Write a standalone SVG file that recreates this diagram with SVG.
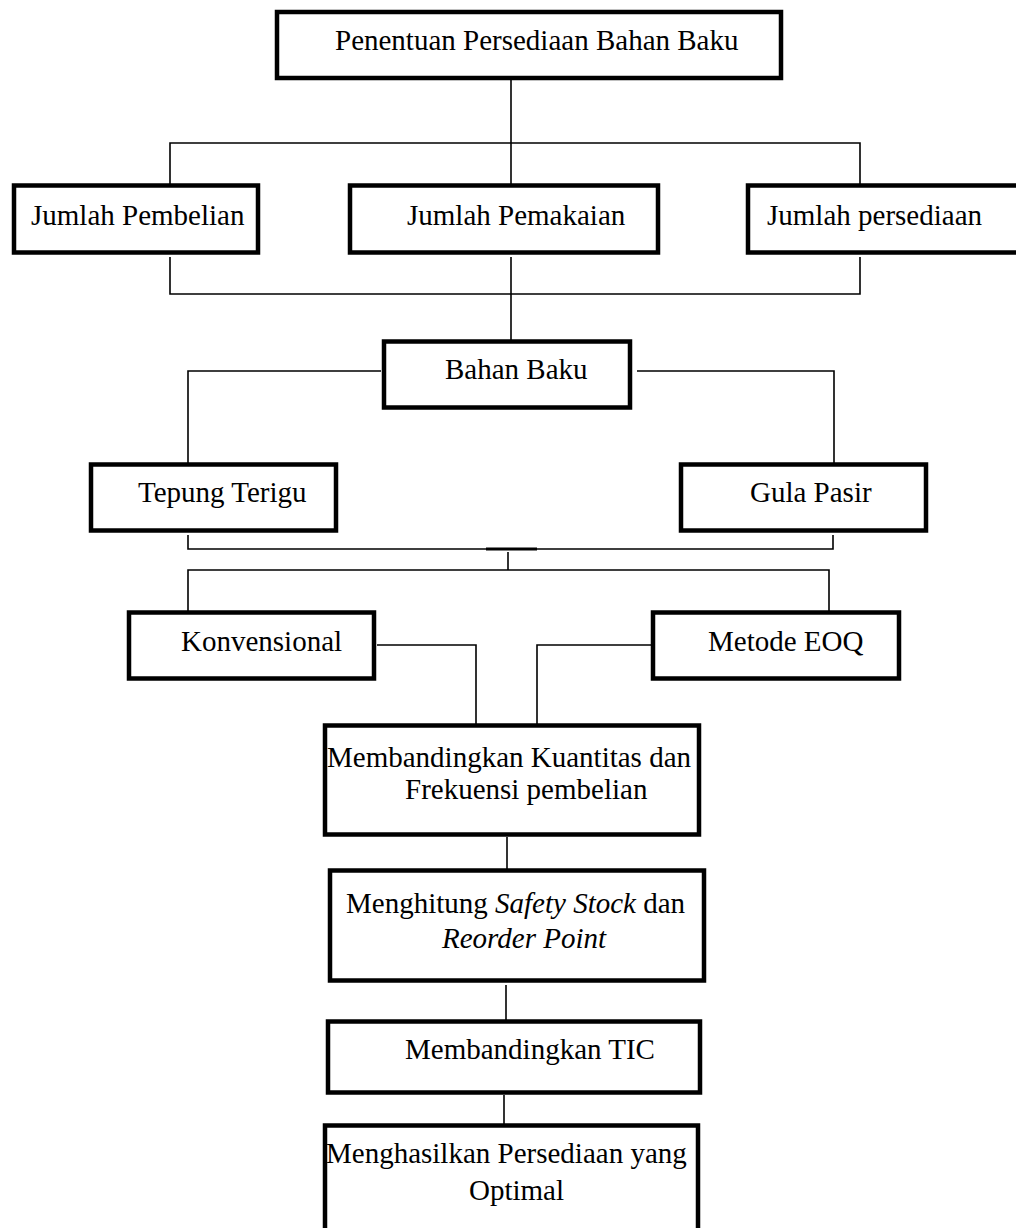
<svg xmlns="http://www.w3.org/2000/svg" width="1016" height="1228" viewBox="0 0 1016 1228">
<style>
.box{fill:#fff;stroke:#000;stroke-width:4.5}
.t{font-family:"Liberation Serif","Times New Roman",serif;font-size:29px;fill:#000}
.c{fill:none;stroke:#000;stroke-width:1.6}
</style>
<rect width="1016" height="1228" fill="#fff"/>
<g id="connectors">
<path class="c" d="M511 78V185"/>
<path class="c" d="M170 185V143H860V185"/>
<path class="c" d="M170 257V294H860V257"/>
<path class="c" d="M511 257V341"/>
<path class="c" d="M381 371H188V464"/>
<path class="c" d="M637 371H834V464"/>
<path class="c" d="M188 535V549H833V535"/>
<path d="M486 549H537" stroke="#000" stroke-width="3"/>
<path class="c" d="M508 552V570"/>
<path class="c" d="M188 612V570H829V612"/>
<path class="c" d="M377 645H476V725"/>
<path class="c" d="M651 645H537V725"/>
<path class="c" d="M507 837V872"/>
<path class="c" d="M506 985V1021"/>
<path class="c" d="M504 1095V1125"/>
</g>
<g id="n1"><rect class="box" x="277" y="12" width="504" height="66"/><text class="t" x="335" y="50">Penentuan Persediaan Bahan Baku</text></g>
<g id="n2"><rect class="box" x="14" y="185.5" width="244" height="67"/><text class="t" x="31" y="225">Jumlah Pembelian</text></g>
<g id="n3"><rect class="box" x="350" y="185.5" width="308" height="67"/><text class="t" x="407" y="225">Jumlah Pemakaian</text></g>
<g id="n4"><rect class="box" x="748" y="185.5" width="300" height="67"/><text class="t" x="767" y="225">Jumlah persediaan</text></g>
<g id="n5"><rect class="box" x="384" y="341.5" width="246" height="66"/><text class="t" x="445" y="379">Bahan Baku</text></g>
<g id="n6"><rect class="box" x="91" y="464.5" width="245" height="66"/><text class="t" x="138" y="502">Tepung Terigu</text></g>
<g id="n7"><rect class="box" x="681" y="464.5" width="245" height="66"/><text class="t" x="750" y="502">Gula Pasir</text></g>
<g id="n8"><rect class="box" x="129" y="612.5" width="245" height="66"/><text class="t" x="181" y="651">Konvensional</text></g>
<g id="n9"><rect class="box" x="653" y="612.5" width="246" height="66"/><text class="t" x="708" y="651">Metode EOQ</text></g>
<g id="n10"><rect class="box" x="325" y="725.5" width="374" height="109"/><text class="t" x="327" y="767">Membandingkan Kuantitas dan</text><text class="t" x="405" y="799">Frekuensi pembelian</text></g>
<g id="n11"><rect class="box" x="330" y="870.5" width="374" height="110"/><text class="t" x="346" y="913">Menghitung <tspan font-style="italic">Safety Stock</tspan> dan</text><text class="t" x="442" y="948" font-style="italic">Reorder Point</text></g>
<g id="n12"><rect class="box" x="328" y="1021.5" width="372" height="71"/><text class="t" x="405" y="1059">Membandingkan TIC</text></g>
<g id="n13"><rect class="box" x="325" y="1125.5" width="373" height="130"/><text class="t" x="326" y="1163">Menghasilkan Persediaan yang</text><text class="t" x="469" y="1200">Optimal</text></g>
</svg>
